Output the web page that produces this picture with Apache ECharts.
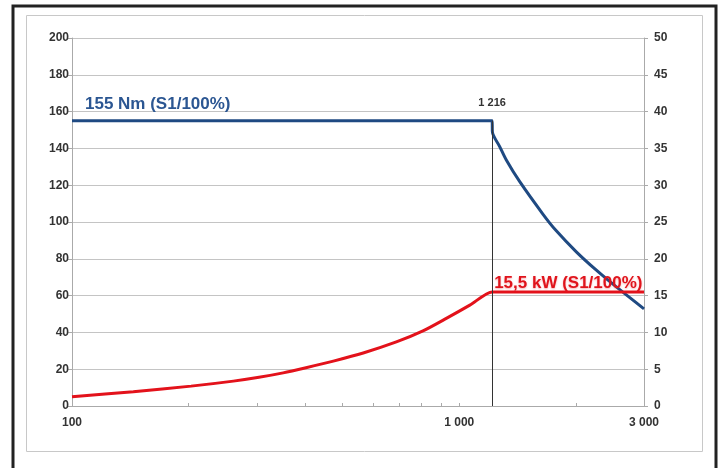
<!DOCTYPE html>
<html>
<head>
<meta charset="utf-8">
<script src="https://cdn.jsdelivr.net/npm/echarts@6/dist/echarts.min.js"></script>
<style>
  html, body { margin: 0; padding: 0; background: #fff; }
  #chart { width: 726px; height: 468px; }
</style>
</head>
<body>
<div id="chart"></div>
<script>
// torque curve, Nm vs rpm
const torqueRpm = [100, 1216, 1218, 1272, 1323, 1433, 1646, 1781, 2006, 2260, 2545, 3000]
const torqueNm  = [155, 155,  149,  141,  133.7, 121.9, 104.2, 95.2, 83.8, 73.8, 64.7, 52.8]
// power curve, kW vs rpm
const powerRpm = [100, 144, 203, 261, 304, 351, 402, 473, 565, 688, 806, 926, 1065, 1216, 1230, 3000]
const powerKw  = [1.26, 1.95, 2.7, 3.38, 3.9, 4.5, 5.2, 6.1, 7.2, 8.7, 10.2, 11.9, 13.7, 15.5, 15.5, 15.5]

const cornerRpm = 1216
const cornerNm = 155
const xLabels = [100, 1000, 3000]
const xTicks = [100, 200, 300, 400, 500, 600, 700, 800, 900, 1000, 2000, 3000]

const torqueLabel = '155 Nm (S1/100%)'
const powerLabel = '15,5 kW (S1/100%)'

const pairs = (xs, ys) => xs.map((x, i) => [x, ys[i]])
const fmt = v => String(Math.round(v)).replace(/\B(?=(\d{3})+(?!\d))/g, ' ')

const chart = echarts.init(document.getElementById('chart'))
const labelFont = { fontFamily: 'Liberation Sans, Arial, sans-serif', fontWeight: 'bold', fontSize: 12, color: '#333' }

chart.setOption({
  animation: false,
  graphic: [
    { type: 'rect', shape: { x: 13, y: 6, width: 703, height: 470 }, style: { fill: 'none', stroke: '#222', lineWidth: 3 } },
    { type: 'rect', shape: { x: 26.5, y: 15.5, width: 676, height: 436 }, style: { fill: 'none', stroke: '#c8c8c8', lineWidth: 1 } },
  ],
  grid: { left: 72, right: 82, top: 38, bottom: 62 },
  xAxis: {
    type: 'log', logBase: 10, min: 100, max: 3000,
    axisLine: { lineStyle: { color: '#aaa' } },
    axisTick: { inside: true, length: 3, customValues: xTicks, lineStyle: { color: '#aaa' } },
    axisLabel: { customValues: xLabels, formatter: fmt, margin: 11, ...labelFont },
    splitLine: { show: false },
  },
  yAxis: [
    {
      type: 'value', min: 0, max: 200, interval: 20, position: 'left',
      axisLine: { show: true, lineStyle: { color: '#aaa' } },
      axisTick: { show: true, length: 4, lineStyle: { color: '#aaa' } },
      axisLabel: { margin: 3, ...labelFont },
      splitLine: { lineStyle: { color: '#c4c4c4' } },
    },
    {
      type: 'value', min: 0, max: 50, interval: 5, position: 'right',
      axisLine: { show: true, lineStyle: { color: '#aaa' } },
      axisTick: { show: true, length: 4, lineStyle: { color: '#aaa' } },
      axisLabel: { margin: 10, ...labelFont },
      splitLine: { show: false },
    },
  ],
  series: [
    {
      name: 'Torque', type: 'line', yAxisIndex: 0,
      data: pairs(torqueRpm, torqueNm),
      showSymbol: false, symbol: 'none', smooth: 0.3,
      lineStyle: { width: 3, color: '#1f4a82' },
      itemStyle: { color: '#1f4a82' },
      z: 3,
      markLine: {
        silent: true, symbol: 'none',
        lineStyle: { color: '#333', width: 1, type: 'solid' },
        label: { show: true, position: 'end', distance: 12, formatter: fmt(cornerRpm), ...labelFont, fontSize: 11 },
        data: [[{ coord: [cornerRpm, 0] }, { coord: [cornerRpm, cornerNm] }]],
      },
      markPoint: {
        silent: true, symbol: 'circle', symbolSize: 0,
        data: [{ coord: [torqueRpm[0], cornerNm] }],
        label: {
          show: true, position: 'right', offset: [8, -16], formatter: torqueLabel,
          fontFamily: 'Liberation Sans, Arial, sans-serif', fontWeight: 'bold', fontSize: 17, color: '#2b5692',
        },
      },
    },
    {
      name: 'Power', type: 'line', yAxisIndex: 1,
      data: pairs(powerRpm, powerKw),
      showSymbol: false, symbol: 'none', smooth: 0.25,
      lineStyle: { width: 3, color: '#e3121b' },
      itemStyle: { color: '#e3121b' },
      z: 4,
      markPoint: {
        silent: true, symbol: 'circle', symbolSize: 0,
        data: [{ coord: [cornerRpm, powerKw[powerKw.length - 1]] }],
        label: {
          show: true, position: 'right', offset: [-3, -9], formatter: powerLabel,
          fontFamily: 'Liberation Sans, Arial, sans-serif', fontWeight: 'bold', fontSize: 17, color: '#e0141c',
          textShadowColor: 'rgba(230,30,40,0.35)', textShadowBlur: 2, textShadowOffsetY: 1,
        },
      },
    },
  ],
})
</script>
</body>
</html>
